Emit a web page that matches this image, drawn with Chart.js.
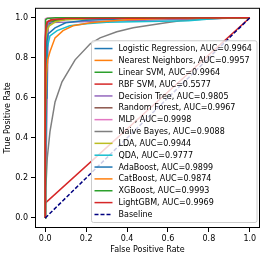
<!DOCTYPE html>
<html>
<head>
<meta charset="utf-8">
<script src="https://cdn.jsdelivr.net/npm/chart.js@4.4.1/dist/chart.umd.min.js"></script>
<style>
  html, body { margin: 0; padding: 0; background: #fff; }
  #wrap { width: 266px; height: 259px; }
</style>
</head>
<body>
<div id="wrap"><canvas id="rocChart"></canvas></div>
<script>
// model names and AUC values from the legend
const modelNames = ["Logistic Regression", "Nearest Neighbors", "Linear SVM", "RBF SVM",
  "Decision Tree", "Random Forest", "MLP", "Naive Bayes", "LDA", "QDA",
  "AdaBoost", "CatBoost", "XGBoost", "LightGBM"];
const aucValues = [0.9964, 0.9957, 0.9964, 0.5577, 0.9805, 0.9967, 0.9998,
  0.9088, 0.9944, 0.9777, 0.9899, 0.9874, 0.9993, 0.9969];

// ROC points [fpr, tpr]
const rocLogistic = [[0,0],[0,0.80],[0.005,0.92],[0.01,0.95],[0.02,0.97],[0.05,0.985],[0.1,0.992],[0.2,0.997],[0.4,0.999],[1,1]];
const rocNearest = [[0,0],[0,0.85],[0.005,0.95],[0.01,0.97],[0.03,0.985],[0.08,0.993],[0.2,0.998],[1,1]];
const rocLinearSvm = [[0,0],[0,0.83],[0.005,0.93],[0.01,0.96],[0.02,0.975],[0.05,0.988],[0.1,0.993],[0.3,0.998],[1,1]];
const rocRbfSvm = [[0,0],[0,0.074],[1,1]];
const rocTree = [[0,0],[0.015,0.976],[1,1]];
const rocForest = [[0,0],[0,0.88],[0.005,0.96],[0.01,0.98],[0.03,0.99],[0.1,0.997],[1,1]];
const rocMlp = [[0,0],[0,0.97],[0.002,0.995],[0.01,0.999],[0.05,1],[1,1]];
const rocBayes = [[0,0],[0.003,0.15],[0.01,0.3],[0.023,0.43],[0.048,0.58],[0.082,0.68],[0.146,0.79],[0.22,0.87],
  [0.268,0.9],[0.35,0.93],[0.43,0.95],[0.59,0.975],[0.66,0.985],[0.8,0.995],[0.9,0.999],[1,1]];
const rocLda = [[0,0],[0,0.8],[0.005,0.91],[0.01,0.94],[0.02,0.96],[0.05,0.98],[0.1,0.99],[0.3,0.997],[1,1]];
const rocQda = [[0,0],[0,0.3],[0.005,0.6],[0.01,0.85],[0.023,0.91],[0.058,0.936],[0.12,0.96],[0.2,0.97],
  [0.3,0.978],[0.5,0.982],[0.7,0.985],[0.82,0.995],[0.9,1],[1,1]];
const rocAdaBoost = [[0,0],[0,0.3],[0.004,0.6],[0.008,0.88],[0.014,0.92],[0.048,0.95],[0.1,0.975],[0.2,0.988],[0.4,0.995],[1,1]];
const rocCatBoost = [[0,0],[0,0.5],[0.006,0.72],[0.012,0.79],[0.023,0.83],[0.048,0.90],[0.087,0.936],[0.136,0.96],
  [0.22,0.975],[0.27,0.98],[0.4,0.99],[0.6,0.996],[1,1]];
const rocXgb = [[0,0],[0,0.95],[0.003,0.99],[0.01,0.997],[0.05,1],[1,1]];
const rocLgbm = [[0,0],[0,0.9],[0.004,0.96],[0.01,0.98],[0.03,0.99],[0.1,0.997],[1,1]];
const rocBaseline = [[0,0],[1,1]];

const curves = [rocLogistic, rocNearest, rocLinearSvm, rocRbfSvm, rocTree, rocForest, rocMlp,
  rocBayes, rocLda, rocQda, rocAdaBoost, rocCatBoost, rocXgb, rocLgbm];

const tickValues = [0, 0.2, 0.4, 0.6, 0.8, 1.0];

const palette = ["#1f77b4", "#ff7f0e", "#2ca02c", "#d62728", "#9467bd",
  "#8c564b", "#e377c2", "#7f7f7f", "#bcbd22", "#17becf"];

const FONT = "'DejaVu Sans', sans-serif";

const datasets = curves.map((pts, i) => ({
  label: modelNames[i] + ", AUC=" + aucValues[i].toFixed(4),
  data: pts.map(p => ({ x: p[0], y: p[1] })),
  borderColor: palette[i % 10],
  borderWidth: 1.5,
  pointRadius: 0,
  showLine: true,
  tension: 0,
  order: curves.length - i,
}));
datasets.push({
  label: "Baseline",
  data: rocBaseline.map(p => ({ x: p[0], y: p[1] })),
  borderColor: "#000080",
  borderWidth: 1.5,
  borderDash: [4, 2],
  pointRadius: 0,
  showLine: true,
  order: 0,
});

// box round the plot + legend inside, like matplotlib's "lower right"
const frameAndLegend = {
  id: "frameAndLegend",
  afterDatasetsDraw(chart) {
    const ctx = chart.ctx;
    const a = chart.chartArea;
    ctx.save();
    ctx.strokeStyle = "#000";
    ctx.lineWidth = 1;
    ctx.strokeRect(a.left + 0.5, a.top + 0.5, a.right - a.left - 1, a.bottom - a.top - 1);

    const rowH = 11.85;
    const ds = chart.data.datasets;
    const boxR = a.right - 3;
    const boxB = a.bottom - 5.5;
    const boxL = a.left + 56.5;
    const boxT = boxB - ds.length * rowH - 4;
    ctx.beginPath();
    ctx.roundRect(boxL, boxT, boxR - boxL, boxB - boxT, 2);
    ctx.fillStyle = "rgba(255,255,255,0.8)";
    ctx.fill();
    ctx.strokeStyle = "#cccccc";
    ctx.stroke();

    ctx.font = "8px " + FONT;
    ctx.textBaseline = "middle";
    ds.forEach((d, i) => {
      const y = boxT + 7.8 + i * rowH;
      ctx.beginPath();
      ctx.setLineDash(d.borderDash || []);
      ctx.strokeStyle = d.borderColor;
      ctx.lineWidth = 1.5;
      ctx.moveTo(boxL + 3, y);
      ctx.lineTo(boxL + 21, y);
      ctx.stroke();
      ctx.setLineDash([]);
      ctx.fillStyle = "#000";
      ctx.fillText(d.label, boxL + 27, y + 0.5);
    });
    ctx.restore();
  }
};

const axisCommon = {
  type: "linear",
  min: -0.05,
  max: 1.05,
  afterBuildTicks: (scale) => { scale.ticks = tickValues.map(v => ({ value: v })); },
  grid: { drawOnChartArea: false, drawTicks: true, tickLength: 4, color: "#000" },
  border: { display: false },
};

new Chart(document.getElementById("rocChart").getContext("2d"), {
  type: "scatter",
  data: { datasets },
  options: {
    responsive: true,
    maintainAspectRatio: false,
    animation: false,
    layout: { padding: { top: 5, right: 6, left: 0, bottom: 0 } },
    plugins: { legend: { display: false }, tooltip: { enabled: false } },
    scales: {
      x: {
        ...axisCommon,
        ticks: { font: { family: FONT, size: 8 }, color: "#000", padding: 2,
          maxRotation: 0, callback: v => v.toFixed(1) },
        title: { display: true, text: "False Positive Rate", color: "#000",
          font: { family: FONT, size: 8 }, padding: { top: 0, bottom: 4 } },
        afterFit: (s) => { s.height = 31; },
      },
      y: {
        ...axisCommon,
        ticks: { font: { family: FONT, size: 8 }, color: "#000", padding: 3,
          callback: v => v.toFixed(1) },
        title: { display: true, text: "True Positive Rate", color: "#000",
          font: { family: FONT, size: 8 }, padding: { top: 3, bottom: 0 } },
        afterFit: (s) => { s.width = 35; },
      },
    },
  },
  plugins: [frameAndLegend],
});
</script>
</body>
</html>
